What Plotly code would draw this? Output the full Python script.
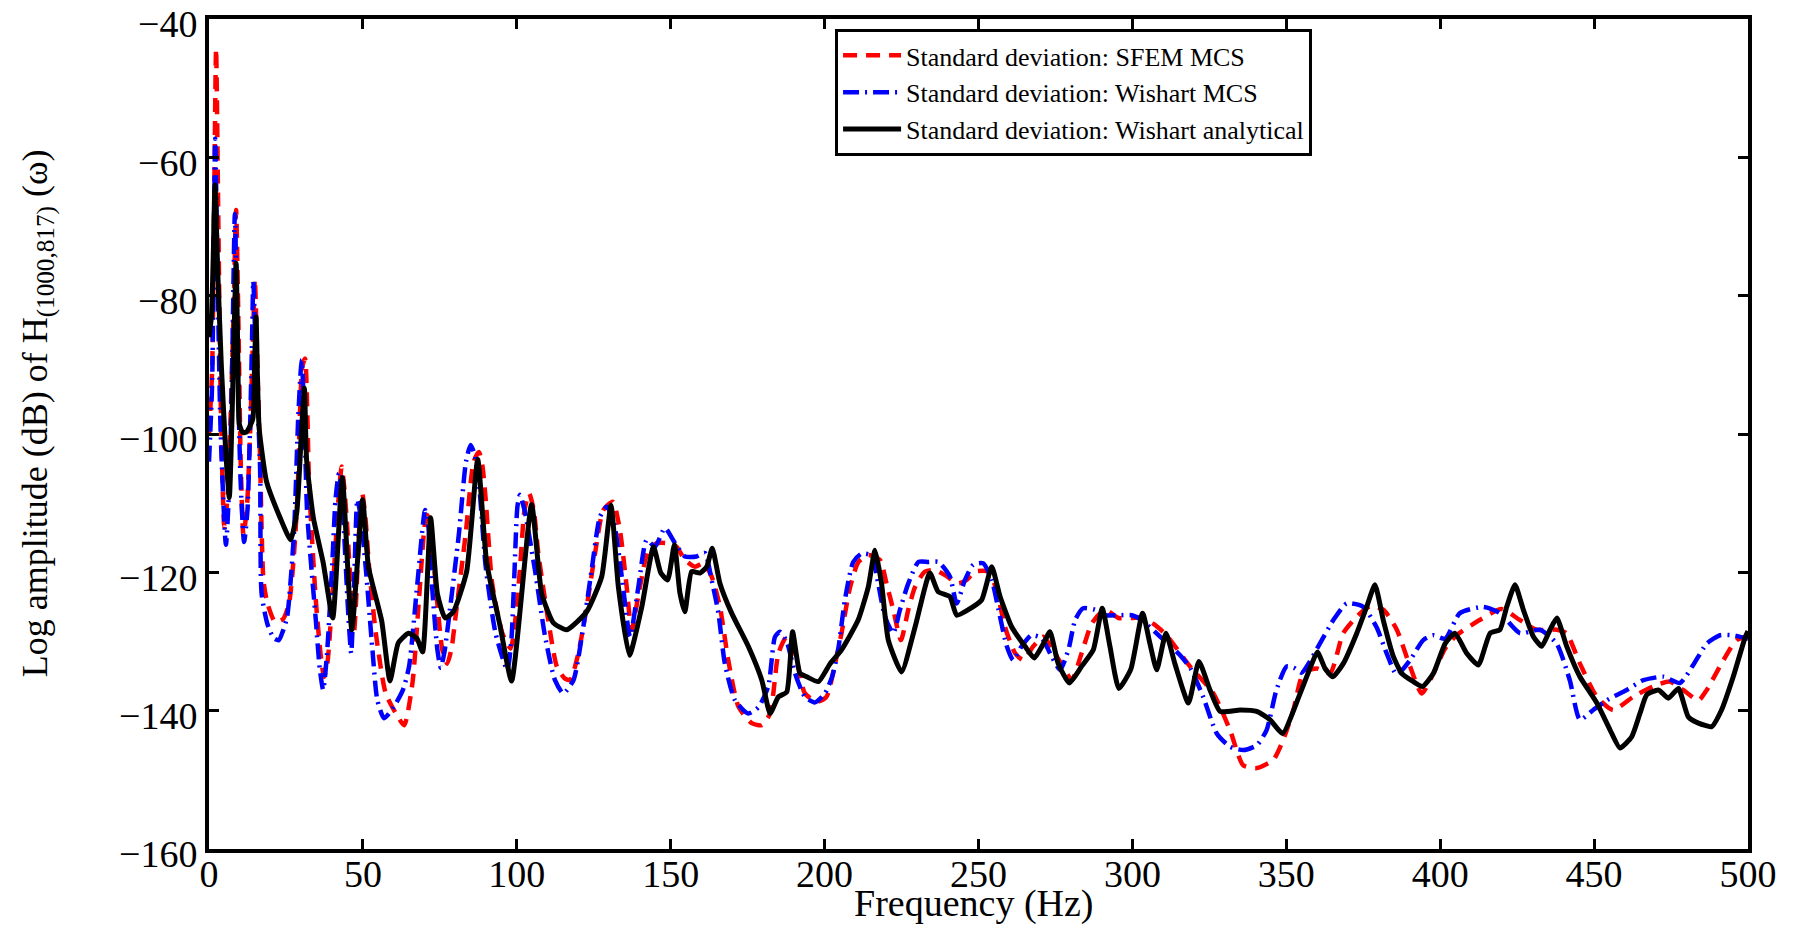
import plotly.graph_objects as go

# ---- data ----
sfem_f = [0, 1.0, 1.6, 2.3, 3.0, 3.8, 5.0, 6.2, 7.2, 8.0, 8.8, 9.6, 10.3, 11.2, 12.4, 13.5, 14.3, 14.9, 15.6, 16.6,
          17.7, 19.0, 21.5, 24.0, 26.0, 27.5, 28.7, 30.3, 31.2, 32.0, 32.5, 34.7, 36.3, 37.4, 38.5, 40.0, 42.2, 43.1,
          44.0, 44.9, 46.6, 47.1, 47.8, 48.7, 49.8, 50.8, 52.0, 54.2, 57.4, 60.7, 63.4, 66.1, 68.2, 70.0, 70.9, 72.0,
          73.6, 75.8, 77.4, 78.8, 80.1, 83.4, 86.0, 87.7, 88.8, 89.9, 92.0, 95.3, 98.0, 99.5, 101.0, 102.5, 104.0,
          105.5, 107.0, 110.2, 113.0, 115.5, 117.3, 120.0, 122.7, 125.4, 128.1, 131.2, 133.5, 135.7, 137.3, 140.0,
          142.7, 145.4, 149.2, 151.9, 154.6, 157.9, 160.6, 163.3, 166.0, 168.7, 172.0, 176.3, 179.6, 182.3, 185.0,
          187.7, 190.4, 193.6, 197.4, 200.6, 203.5, 205.5, 208.3, 211.0, 214.2, 218.0, 220.1, 222.3, 224.8, 227.2,
          229.4, 232.6, 235.9, 239.1, 243.4, 246.2, 248.9, 253.2, 255.9, 258.6, 261.9, 264.6, 267.8, 271.1, 274.8,
          278.1, 280.3, 283.5, 286.8, 291.1, 295.5, 299.8, 303.0, 307.0, 311.1, 318.7, 326.3, 331.7, 336.0, 340.4,
          345.8, 349.0, 352.3, 355.5, 359.9, 364.2, 368.5, 372.9, 377.2, 381.5, 385.9, 390.2, 394.0, 397.8, 401.6,
          405.3, 412.8, 419.9, 425.9, 431.3, 437.8, 441.0, 445.4, 450.9, 456.2, 462.7, 469.2, 474.6, 478.9, 483.9,
          486.6, 492.0, 496.3, 500]
sfem_db = [-100, -91, -70, -44.3, -68, -95, -113.5, -108, -95, -82, -67.6, -85, -104, -114.7, -110, -98, -86, -77.6,
           -88, -103.7, -121.2, -124.5, -127.2, -126.8, -124.5, -118, -109.5, -90.3, -89.1, -98, -107.1, -124, -132,
           -135.1, -133, -124, -108.6, -104.7, -108, -113.4, -126.4, -128.8, -124, -114.4, -108.6, -112, -119.2,
           -128.8, -137.5, -140.4, -142.1, -136, -124, -113.5, -111.7, -114, -121.6, -131.2, -133.2, -131, -126.4,
           -114.4, -104, -102.6, -104.5, -109.5, -121.6, -128.8, -131, -127, -119.7, -111, -108.6, -111, -117.3,
           -126.9, -133.6, -135.3, -135.6, -131.7, -125, -117.3, -111, -109.8, -113.9, -122.1, -128.3, -122.1,
           -116.8, -115.8, -115.8, -116.3, -118.2, -119.2, -118.7, -120.6, -125, -132.7, -139.4, -141.8, -142.1,
           -140.4, -131.7, -129.3, -131.7, -137.5, -138.7, -138, -133, -128.8, -122.1, -118.5, -117.5, -118.2,
           -121.6, -125.4, -129.8, -125.4, -122.1, -119.9, -119.7, -120.4, -121.6, -121.1, -119.9, -119.9, -122.6,
           -127.9, -131.7, -132.7, -130.7, -129.3, -131.7, -134.1, -135.6, -131.7, -127.4, -125.4, -126.6, -126.6,
           -126.5, -127.5, -129.1, -133.6, -137.5, -142.8, -147.9, -148.3, -147.1, -144.2, -139.9, -134.6, -133.9,
           -134.6, -128.8, -126.4, -124.9, -125.4, -128.3, -133.6, -137.5, -134.6, -131, -129.1, -126.9, -125.3,
           -126.9, -128.3, -128.3, -128.8, -133.2, -138, -139.9, -138, -136.5, -135.8, -137, -138.5, -137, -132.7,
           -129.8, -129.3]

wmcs_f = [0, 1.0, 1.5, 2.0, 2.7, 3.8, 5.5, 6.8, 7.6, 8.4, 9.2, 10.2, 11.4, 12.5, 13.4, 14.0, 14.4, 15.3, 16.6, 17.1,
          19.0, 21.0, 22.7, 24.0, 25.4, 27.6, 29.0, 30.1, 31.0, 31.9, 34.7, 36.0, 37.1, 38.3, 40.0, 41.1, 42.2, 43.0,
          43.9, 45.3, 46.2, 47.3, 48.2, 49.3, 50.9, 53.1, 54.7, 56.9, 60.1, 63.0, 65.0, 67.7, 70.2, 71.2, 72.0, 74.2,
          75.3, 76.5, 78.0, 81.2, 83.5, 85.0, 86.3, 87.7, 89.9, 93.1, 96.9, 98.2, 99.1, 100.2, 101.0, 102.5, 105.9,
          109.2, 112.4, 115.1, 118.4, 121.6, 124.3, 127.0, 129.2, 131.4, 134.1, 136.8, 139.5, 142.2, 144.9, 148.1,
          151.4, 154.6, 158.4, 161.1, 163.3, 165.5, 167.6, 170.9, 175.2, 178.5, 181.7, 183.9, 185.5, 187.7, 190.4,
          193.6, 196.9, 200.1, 202.5, 204.4, 206.6, 209.3, 212.0, 215.3, 217.4, 219.6, 222.3, 224.5, 227.2, 230.5,
          233.7, 237.0, 240.7, 242.9, 245.6, 248.3, 251.5, 254.3, 256.5, 259.2, 261.3, 264.0, 267.2, 270.5, 273.8,
          276.5, 279.2, 281.4, 284.0, 287.8, 291.1, 295.5, 299.8, 303.0, 309.0, 315.5, 319.0, 323.0, 327.4, 331.7,
          336.0, 340.4, 343.6, 346.8, 350.1, 352.5, 355.0, 357.5, 360.9, 365.3, 369.6, 375.0, 379.3, 382.6, 385.9,
          390.2, 394.5, 397.8, 401.6, 406.4, 414.0, 419.4, 425.9, 432.4, 437.8, 442.1, 445.4, 449.7, 454.1, 460.6,
          466.0, 472.5, 477.9, 482.2, 486.6, 490.9, 495.2, 500]
wmcs_db = [-104, -93, -76, -57.3, -75, -100, -116, -105, -88, -68.2, -86, -106, -115.6, -111, -98, -86, -77.9, -90,
           -105, -123.1, -127.5, -129.5, -129.8, -128.5, -126.4, -114.4, -97.5, -89.3, -98, -111.5, -126.9, -134,
           -137, -132, -119.2, -109.5, -105.7, -108, -114.4, -126.4, -131.7, -119.2, -109.5, -112, -119.2, -131.2,
           -138.5, -141.1, -139.4, -137, -133.6, -121.6, -111, -113, -119.2, -131.2, -133.8, -131.5, -126.4, -114.4,
           -104, -101.6, -103, -107.1, -119.2, -128.8, -134.1, -130, -121.6, -110.5, -108.8, -111, -119.7, -129.3,
           -135.6, -137.5, -135.6, -127.9, -119.7, -112, -110.5, -112.4, -120.6, -129.3, -122.1, -115.3, -116.3,
           -113.6, -115.8, -117.7, -117.7, -117.2, -121.1, -125.9, -133.2, -138.5, -140.4, -139.5, -136.5, -129.3,
           -128.6, -130, -134.6, -138, -138.8, -137.5, -135, -131.2, -124, -118.5, -117.3, -117.6, -121.6, -126.4,
           -128.8, -125.4, -121.6, -118.5, -118.5, -118.5, -120.6, -124.5, -121.1, -118.9, -118.7, -121.1, -125.4,
           -130.7, -132.7, -130.7, -129.1, -129.5, -132.2, -134.1, -131.2, -126.9, -125.2, -125.4, -126.2, -126.2,
           -126.2, -126.9, -129.3, -132, -134, -138, -143.3, -145.2, -145.7, -145, -142.8, -137, -133.6, -133.8,
           -134.5, -133, -130.3, -126.9, -124.5, -125, -127.9, -131.7, -134.8, -132.7, -129.8, -129.1, -129.6,
           -125.9, -125, -125.9, -128.8, -128.3, -130.3, -135.6, -141.3, -139.9, -138.5, -137, -135.6, -135.1, -136,
           -133.4, -130.3, -129.1, -129.1, -129.6]

wan_f = [0, 0.8, 1.4, 1.95, 2.8, 4.0, 5.5, 6.6, 7.8, 8.8, 9.4, 9.85, 11.0, 12.2, 14.2, 14.8, 15.3, 15.8, 16.3, 18.7,
         23.1, 26.5, 28.5, 30.0, 31.0, 31.7, 33.9, 37.1, 40.2, 43.3, 46.4, 49.9, 51.8, 56.1, 58.8, 61.5, 64.8, 67.5,
         69.4, 72.0, 74.2, 76.7, 79.4, 83.7, 87.3, 90.2, 94.5, 98.3, 104.8, 108.1, 111.9, 116.2, 122.7, 127.6, 130.6,
         133.0, 136.6, 140.6, 144.4, 146.8, 149.0, 151.2, 153.0, 154.6, 156.8, 159.5, 161.7, 163.5, 166.0, 169.8,
         175.2, 179.6, 182.3, 185.0, 187.7, 189.6, 192.0, 194.2, 198.0, 201.8, 205.5, 210.9, 214.2, 216.4, 218.5,
         220.7, 225.0, 229.4, 234.2, 236.9, 240.7, 242.9, 246.7, 251.0, 254.3, 257.0, 260.8, 265.1, 268.1, 271.1,
         273.2, 275.9, 279.5, 283.5, 287.3, 290.2, 292.7, 295.6, 299.5, 303.3, 305.7, 307.9, 310.9, 313.8, 318.2,
         321.6, 325.2, 328.5, 335.0, 340.4, 344.7, 348.8, 354.5, 358.3, 360.1, 362.6, 365.1, 368.5, 372.9, 376.1,
         378.8, 381.5, 384.8, 387.5, 391.3, 394.3, 397.8, 401.6, 404.8, 408.6, 412.4, 416.2, 419.4, 421.6, 424.3,
         427.0, 430.3, 433.0, 435.7, 437.9, 441.1, 445.4, 450.9, 455.2, 458.4, 462.2, 464.9, 467.1, 470.9, 474.1,
         477.4, 480.6, 483.9, 488.2, 491.4, 495.2, 499.0, 500]
wan_db = [-86, -83, -74, -64, -76, -90, -103, -109.2, -92, -75.3, -90, -98.6, -99.8, -99.7, -97.9, -90, -83.1, -93,
          -99.2, -106.9, -112.1, -115.3, -111.4, -100, -93.4, -103.7, -112.1, -118.6, -126.6, -106.3, -128.3, -109.5,
          -119.2, -127, -135.7, -130.2, -128.8, -129.5, -131.5, -112.1, -123.1, -126.6, -125.7, -119.9, -103.7,
          -118.6, -127.6, -135.7, -110.2, -123.1, -127.3, -128.3, -125.7, -120.6, -110.3, -122.1, -132, -125,
          -116.3, -120.1, -121.1, -116, -123, -125.7, -119.9, -120.1, -119.2, -116.5, -121.6, -125.9, -130.7,
          -135.6, -140.4, -138, -137.3, -128.6, -134.6, -135.1, -135.8, -133.2, -131.2, -126.9, -122.1, -116.8,
          -121.6, -129.8, -134.4, -127.9, -120.1, -122.8, -123.5, -126.2, -125.4, -124, -119.2, -123.5, -127.9,
          -130.7, -132.4, -130.3, -128.6, -133.2, -136, -133.6, -131.2, -125.2, -130.7, -136.8, -134, -125.9,
          -130.3, -134.1, -128.8, -133.2, -138.9, -132.9, -137, -140.1, -139.9, -140.1, -141.3, -143.3, -137.5,
          -133.2, -131.5, -133.9, -135.1, -133.2, -128.8, -125, -121.8, -126.9, -132.2, -134.6, -135.8, -136.5,
          -134.6, -130.3, -128.8, -131.7, -133.4, -128.8, -128.3, -125, -121.8, -125.4, -129.3, -130.7, -128.3,
          -126.6, -130.7, -135.1, -138.9, -142.8, -145.4, -143.8, -140.4, -137.7, -137, -138.2, -136.8, -140.9,
          -141.8, -142.3, -139.9, -135.1, -129.5, -128.5]

x_ticks = [0, 50, 100, 150, 200, 250, 300, 350, 400, 450, 500]
y_ticks = [-160, -140, -120, -100, -80, -60, -40]

series_names = ["Standard deviation: SFEM MCS",
                "Standard deviation: Wishart MCS",
                "Standard deviation: Wishart analytical"]
x_title = "Frequency (Hz)"
y_title = "Log amplitude (dB) of H<sub>(1000,817)</sub> (ω)"

FONT = "Liberation Serif, Times New Roman, serif"

# The page body has an 8 px default margin, so the figure is sized 8 px smaller
# and its margins are set so the plot lands where the reference has it.
fig = go.Figure()
fig.add_trace(go.Scatter(x=sfem_f, y=sfem_db, mode="lines", name=series_names[0],
                         line=dict(color="#ff0000", width=4.5, dash="14px,9px", shape="spline", smoothing=0.6)))
fig.add_trace(go.Scatter(x=wmcs_f, y=wmcs_db, mode="lines", name=series_names[1],
                         line=dict(color="#0000ff", width=4.5, dash="16px,6px,2px,6px", shape="spline", smoothing=0.6)))
fig.add_trace(go.Scatter(x=wan_f, y=wan_db, mode="lines", name=series_names[2],
                         line=dict(color="#000000", width=5, shape="spline", smoothing=0.5)))

axis_common = dict(showline=True, linecolor="black", linewidth=4, mirror="ticks",
                   ticks="inside", ticklen=10, tickwidth=3, tickcolor="black",
                   showgrid=False, zeroline=False, automargin=False,
                   ticklabeloverflow="allow",
                   tickfont=dict(family=FONT, size=38, color="black"))

fig.update_layout(
    width=1793, height=917,
    margin=dict(l=201, r=53, t=11, b=76),
    paper_bgcolor="white", plot_bgcolor="white",
    font=dict(family=FONT, color="black"),
    showlegend=True,
    legend=dict(x=0.4068, y=0.988, xanchor="left", yanchor="top",
                bgcolor="white", bordercolor="black", borderwidth=3,
                font=dict(family=FONT, size=26, color="black"),
                itemwidth=58, tracegroupgap=0),
    xaxis=dict(range=[0, 500], tickvals=x_ticks, ticklabelstandoff=-12, **axis_common),
    yaxis=dict(range=[-160, -40], tickvals=y_ticks, ticklabelshift=5, **axis_common),
    annotations=[
        dict(text=x_title, xref="paper", yref="paper", x=0.497, y=-0.0915, yshift=-2,
             xanchor="center", yanchor="bottom", showarrow=False,
             font=dict(family=FONT, size=38, color="black")),
        dict(text=y_title, xref="paper", yref="paper", x=0, y=0.525, xshift=-171,
             xanchor="center", yanchor="middle", textangle=-90, showarrow=False,
             font=dict(family=FONT, size=36, color="black")),
    ],
)

fig.write_html("out.html")
